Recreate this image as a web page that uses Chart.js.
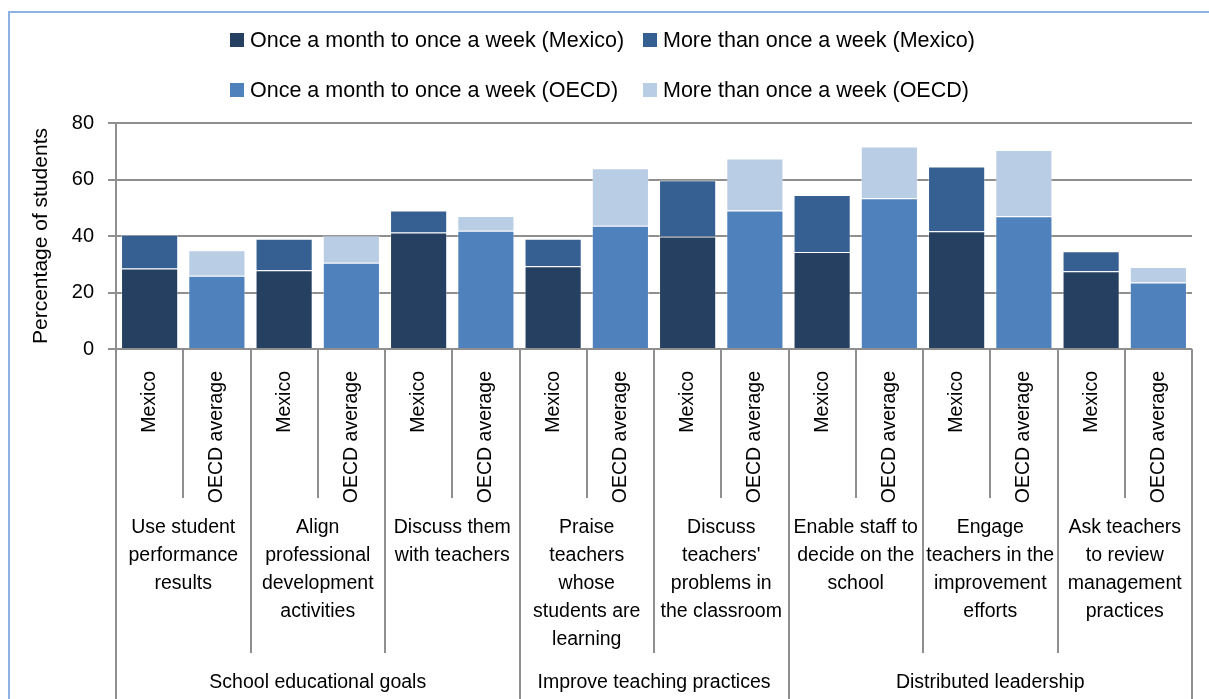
<!DOCTYPE html>
<html>
<head>
<meta charset="utf-8">
<script src="https://cdn.jsdelivr.net/npm/chart.js@4/dist/chart.umd.min.js"></script>
<style>
  html, body { margin: 0; padding: 0; width: 1209px; height: 699px; overflow: hidden; background: #fff; }
  .frame { position: absolute; left: 8px; top: 11px; width: 1240px; height: 740px; border: 2px solid #8DB3E2; box-sizing: border-box; }
  #wrap { position: absolute; left: 0; top: 0; width: 1209px; height: 699px; }
  .legend { position: absolute; left: 230px; top: 26px; display: grid; grid-template-columns: 413px auto; grid-auto-rows: 28px; row-gap: 22px;
            font-family: 'Liberation Sans', Arial, sans-serif; font-size: 21.5px; color: #000; }
  .legend .item { display: flex; align-items: center; white-space: nowrap; }
  .legend .box { width: 14px; height: 14px; margin-right: 6px; flex: none; }
</style>
</head>
<body>
<div class="frame"></div>
<div id="wrap"><canvas id="chart" width="1209" height="699"></canvas></div>
<div class="legend" id="legend"></div>
<script>
const countries = ['Mexico', 'OECD average'];
const practices = [
    ['Use student', 'performance', 'results'],
    ['Align', 'professional', 'development', 'activities'],
    ['Discuss them', 'with teachers'],
    ['Praise', 'teachers', 'whose', 'students are', 'learning'],
    ['Discuss', "teachers'", 'problems in', 'the classroom'],
    ['Enable staff to', 'decide on the', 'school'],
    ['Engage', 'teachers in the', 'improvement', 'efforts'],
    ['Ask teachers', 'to review', 'management', 'practices']
];
const sections = ['School educational goals', 'Improve teaching practices', 'Distributed leadership'];
const sectionSpans = [3, 2, 3];   // number of practices in each section

const mexicoMonthly = [28.5, 27.9, 41.2, 29.3, 39.8, 34.3, 41.7, 27.5];
const mexicoWeekly  = [11.9, 11.1, 7.8, 9.7, 19.9, 20.2, 22.9, 7.1];
const oecdMonthly   = [25.9, 30.5, 41.9, 43.6, 49.0, 53.4, 47.0, 23.5];
const oecdWeekly    = [9.1, 9.7, 5.2, 20.4, 18.4, 18.3, 23.4, 5.5];

const seriesNames = [
    'Once a month to once a week (Mexico)',
    'More than once a week (Mexico)',
    'Once a month to once a week (OECD)',
    'More than once a week (OECD)'
];
const seriesColors = ['#264061', '#366092', '#4F81BD', '#B9CDE5'];

const yTicks = [0, 20, 40, 60, 80];

// one category per bar: Mexico / OECD average for each practice
const labels = [];
practices.forEach(() => countries.forEach(c => labels.push(c)));

function spread(values, slot) {
    const out = [];
    values.forEach(v => {
        out.push(slot === 0 ? v : null);
        out.push(slot === 1 ? v : null);
    });
    return out;
}

const seriesData = [
    spread(mexicoMonthly, 0),
    spread(mexicoWeekly, 0),
    spread(oecdMonthly, 1),
    spread(oecdWeekly, 1)
];

const FONT = "'Liberation Sans', Arial, sans-serif";
const LINE = '#8f8f8f';

const multiLevelAxis = {
    id: 'multiLevelAxis',
    afterDraw(chart) {
        const ctx = chart.ctx;
        const xs = chart.scales.x;
        const base = chart.chartArea.bottom;
        const step = xs.getPixelForValue(1) - xs.getPixelForValue(0);
        const edge = k => xs.getPixelForValue(0) - step / 2 + k * step;

        const sectionEdges = [0];
        sectionSpans.forEach(s => sectionEdges.push(sectionEdges[sectionEdges.length - 1] + s * 2));

        ctx.save();
        ctx.strokeStyle = LINE;
        ctx.lineWidth = 2;
        for (let k = 0; k <= labels.length; k++) {
            let end = base + 149;
            if (sectionEdges.includes(k)) end = chart.height;
            else if (k % 2 === 0) end = base + 304;
            const px = Math.round(edge(k));
            ctx.beginPath();
            ctx.moveTo(px, base);
            ctx.lineTo(px, end);
            ctx.stroke();
        }

        ctx.fillStyle = '#000';
        ctx.textAlign = 'center';
        ctx.textBaseline = 'middle';
        ctx.font = '19.5px ' + FONT;
        practices.forEach((lines, g) => {
            const cx = edge(2 * g + 1);
            lines.forEach((t, j) => ctx.fillText(t, cx, base + 179 + j * 28));
        });

        sections.forEach((name, s) => {
            const cx = (edge(sectionEdges[s]) + edge(sectionEdges[s + 1])) / 2;
            ctx.fillText(name, cx, base + 334);
        });
        ctx.restore();
    }
};

const ctx = document.getElementById('chart').getContext('2d');
const chart = new Chart(ctx, {
    type: 'bar',
    data: {
        labels: labels,
        datasets: seriesNames.map((name, i) => ({
            label: name,
            data: seriesData[i],
            backgroundColor: seriesColors[i],
            borderColor: 'rgba(255,255,255,0.35)',
            borderWidth: 1,
            categoryPercentage: 1,
            barPercentage: 0.85
        }))
    },
    options: {
        responsive: false,
        animation: false,
        layout: { padding: { top: 123, right: 17, left: 0, bottom: 0 } },
        plugins: {
            legend: { display: false },
            tooltip: { enabled: false }
        },
        scales: {
            x: {
                stacked: true,
                grid: { display: false },
                border: { display: false },
                ticks: {
                    autoSkip: false,
                    minRotation: 90,
                    maxRotation: 90,
                    padding: 14,
                    color: '#000',
                    font: { family: FONT, size: 19.5 }
                },
                afterFit(scale) { scale.height = 350; }
            },
            y: {
                stacked: true,
                min: 0,
                max: 80,
                afterBuildTicks(scale) { scale.ticks = yTicks.map(v => ({ value: v })); },
                grid: { color: LINE, lineWidth: 2, tickLength: 8 },
                border: { color: LINE, width: 2 },
                ticks: {
                    padding: 14,
                    color: '#000',
                    font: { family: FONT, size: 20 }
                },
                title: {
                    display: true,
                    text: 'Percentage of students',
                    color: '#000',
                    font: { family: FONT, size: 21 },
                    padding: { top: 29, bottom: 0 }
                },
                afterFit(scale) { scale.width = 116; }
            }
        }
    },
    plugins: [multiLevelAxis]
});

// legend laid out as a 2 x 2 grid like the original
const legendEl = document.getElementById('legend');
[0, 1, 2, 3].forEach(i => {
    const item = document.createElement('div');
    item.className = 'item';
    const box = document.createElement('span');
    box.className = 'box';
    box.style.background = seriesColors[i];
    item.appendChild(box);
    item.appendChild(document.createTextNode(chart.data.datasets[i].label));
    legendEl.appendChild(item);
});
</script>
</body>
</html>
